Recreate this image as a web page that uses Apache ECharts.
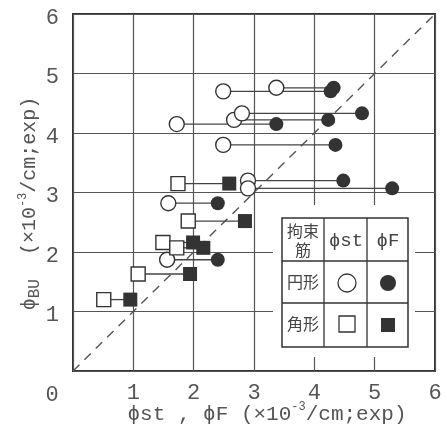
<!DOCTYPE html>
<html>
<head>
<meta charset="utf-8">
<script src="https://cdn.jsdelivr.net/npm/echarts@6/dist/echarts.min.js"></script>
<style>html,body{margin:0;padding:0;background:#fff}#chart{width:447px;height:432px}</style>
</head>
<body>
<div id="chart"></div>
<script>
// 円形 (circular hoops): phi_st, phi_F, phi_BU
var circleSt = [2.49, 3.37, 1.72, 2.67, 2.80, 2.49, 2.90, 2.90, 1.58, 1.56];
var circleF  = [4.27, 4.32, 3.37, 4.23, 4.79, 4.35, 4.48, 5.29, 2.40, 2.40];
var circleBU = [4.70, 4.76, 4.15, 4.22, 4.33, 3.80, 3.20, 3.07, 2.82, 1.87];
// 角形 (square hoops)
var squareSt = [1.74, 1.91, 1.49, 1.72, 1.08, 0.51];
var squareF  = [2.59, 2.85, 1.99, 2.16, 1.94, 0.95];
var squareBU = [3.15, 2.52, 2.16, 2.07, 1.63, 1.20];
var diagonal = [[0, 0], [6, 6]];

var ink = '#333';
var mono = '"Liberation Mono", "DejaVu Sans Mono", monospace';
var cjk = '"Noto Sans CJK JP", sans-serif';

function pts(xs, ys) {
	return xs.map(function(v, i) { return [v, ys[i]]; });
}
function pairs(st, f, bu) {
	return st.map(function(v, i) { return [v, f[i], bu[i]]; });
}

var myChart = echarts.init(document.getElementById('chart'));

var option = {
	animation: false,
	backgroundColor: '#fff',
	grid: {
		left: 73, right: 12, top: 14, bottom: 57,
		show: true, borderColor: ink, borderWidth: 2
	},
	xAxis: {
		type: 'value', min: 0, max: 6, interval: 1,
		axisLine: { show: false }, axisTick: { show: false },
		axisLabel: { showMinLabel: false, margin: 11, fontFamily: mono, fontSize: 22, color: '#555' },
		splitLine: { lineStyle: { color: '#555', width: 1.2 } },
		name: '\u03d5st , \u03d5F (\u00d710{sup|-3}/cm;exp)',
		nameLocation: 'middle', nameGap: 30, nameMoveOverlap: false,
		nameTextStyle: {
			fontFamily: mono, fontSize: 21, lineHeight: 26, color: '#555', padding: [0, 0, 0, 26],
			rich: { sup: { fontFamily: mono, fontSize: 12, lineHeight: 12, color: '#555', verticalAlign: 'top' } }
		}
	},
	yAxis: {
		type: 'value', min: 0, max: 6, interval: 1,
		axisLine: { show: false }, axisTick: { show: false },
		axisLabel: { showMinLabel: false, margin: 14, verticalAlign: 'top', lineHeight: 8, fontFamily: mono, fontSize: 22, color: '#555' },
		splitLine: { lineStyle: { color: '#555', width: 1.2 } },
		name: '\u03d5{sub|BU}  (\u00d710{sup|-3}/cm;exp)',
		nameLocation: 'middle', nameGap: 30, nameRotate: 90, nameMoveOverlap: false,
		nameTextStyle: {
			fontFamily: mono, fontSize: 20, lineHeight: 26, color: '#555', padding: [0, 22, 0, 0],
			rich: {
				sub: { fontFamily: mono, fontSize: 16, lineHeight: 16, color: '#555', verticalAlign: 'bottom' },
				sup: { fontFamily: mono, fontSize: 12, lineHeight: 12, color: '#555', verticalAlign: 'top' }
			}
		}
	},
	series: [{
		type: 'line', data: diagonal, symbol: 'none', silent: true, z: 1,
		lineStyle: { color: '#555', width: 1.4, type: [9, 7] }
	}, {
		type: 'custom', silent: true, z: 2,
		data: pairs(circleSt, circleF, circleBU).concat(pairs(squareSt, squareF, squareBU)),
		encode: { x: [0, 1], y: 2 },
		renderItem: function(params, api) {
			var a = api.coord([api.value(0), api.value(2)]);
			var b = api.coord([api.value(1), api.value(2)]);
			return {
				type: 'line',
				shape: { x1: a[0], y1: a[1], x2: b[0], y2: b[1] },
				style: { stroke: '#444', lineWidth: 1.3 }
			};
		}
	}, {
		name: '円形 \u03d5F', type: 'scatter', z: 3, data: pts(circleF, circleBU),
		symbol: 'circle', symbolSize: 14, itemStyle: { color: ink, opacity: 1 }
	}, {
		name: '角形 \u03d5F', type: 'scatter', z: 3, data: pts(squareF, squareBU),
		symbol: 'rect', symbolSize: 14, itemStyle: { color: ink, opacity: 1 }
	}, {
		name: '円形 \u03d5st', type: 'scatter', z: 4, data: pts(circleSt, circleBU),
		symbol: 'circle', symbolSize: 15,
		itemStyle: { color: '#fff', borderColor: ink, borderWidth: 1.4, opacity: 1 }
	}, {
		name: '角形 \u03d5st', type: 'scatter', z: 4, data: pts(squareSt, squareBU),
		symbol: 'rect', symbolSize: 14,
		itemStyle: { color: '#fff', borderColor: ink, borderWidth: 1.4, opacity: 1 }
	}],
	graphic: [
		// corner zero
		{ type: 'text', x: 52, y: 395, z: 100, style: { text: '0', font: '22px ' + mono, fill: '#555', align: 'center', verticalAlign: 'middle' } },
		// legend table
		{ type: 'rect', z: 100, shape: { x: 273, y: 205, width: 142, height: 152 }, style: { fill: '#fff' } },
		{ type: 'rect', z: 101, shape: { x: 282, y: 218, width: 126, height: 129 }, style: { fill: 'none', stroke: ink, lineWidth: 1.5 } },
		{ type: 'line', z: 101, shape: { x1: 324, y1: 218, x2: 324, y2: 347 }, style: { stroke: ink, lineWidth: 1.3 } },
		{ type: 'line', z: 101, shape: { x1: 367, y1: 218, x2: 367, y2: 347 }, style: { stroke: ink, lineWidth: 1.3 } },
		{ type: 'line', z: 101, shape: { x1: 282, y1: 261, x2: 408, y2: 261 }, style: { stroke: ink, lineWidth: 1.3 } },
		{ type: 'line', z: 101, shape: { x1: 282, y1: 303, x2: 408, y2: 303 }, style: { stroke: ink, lineWidth: 1.3 } },
		{ type: 'text', z: 101, x: 303, y: 231, style: { text: '拘束', font: '16px ' + cjk, fill: '#444', align: 'center', verticalAlign: 'middle' } },
		{ type: 'text', z: 101, x: 303, y: 250, style: { text: '筋', font: '16px ' + cjk, fill: '#444', align: 'center', verticalAlign: 'middle' } },
		{ type: 'text', z: 101, x: 346, y: 241, style: { text: '\u03d5st', font: '19px ' + mono, fill: '#444', align: 'center', verticalAlign: 'middle' } },
		{ type: 'text', z: 101, x: 388, y: 241, style: { text: '\u03d5F', font: '19px ' + mono, fill: '#444', align: 'center', verticalAlign: 'middle' } },
		{ type: 'text', z: 101, x: 303, y: 282, style: { text: '円形', font: '16px ' + cjk, fill: '#444', align: 'center', verticalAlign: 'middle' } },
		{ type: 'text', z: 101, x: 303, y: 324, style: { text: '角形', font: '16px ' + cjk, fill: '#444', align: 'center', verticalAlign: 'middle' } },
		{ type: 'circle', z: 101, shape: { cx: 347, cy: 283, r: 9 }, style: { fill: '#fff', stroke: ink, lineWidth: 1.3 } },
		{ type: 'circle', z: 101, shape: { cx: 388, cy: 283, r: 8 }, style: { fill: ink } },
		{ type: 'rect', z: 101, shape: { x: 339, y: 316, width: 16, height: 16 }, style: { fill: '#fff', stroke: ink, lineWidth: 1.3 } },
		{ type: 'rect', z: 101, shape: { x: 381, y: 318, width: 14, height: 14 }, style: { fill: ink } }
	]
};

myChart.setOption(option);
</script>
</body>
</html>
